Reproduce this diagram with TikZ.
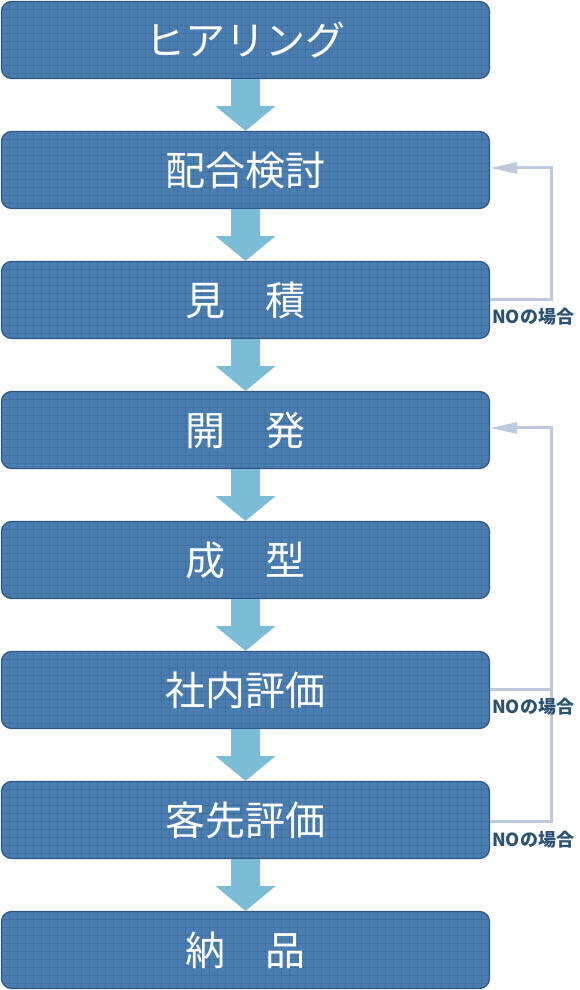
\documentclass[tikz,border=0pt]{standalone}
\usepackage{fontspec}
\setmainfont{Noto Sans CJK JP}
\usetikzlibrary{arrows.meta,calc}
\definecolor{boxfill}{HTML}{4A7EB0}
\definecolor{gridc}{HTML}{4070A0}
\definecolor{boxline}{HTML}{2B5686}
\definecolor{arrowc}{HTML}{7BBCD6}
\definecolor{loopc}{HTML}{BDC9DC}
\definecolor{labelc}{HTML}{2C5272}
\tikzset{
  stepbox/.style={draw=boxline, line width=1.2pt, fill=boxfill, rounded corners=10pt,
    minimum width=488pt, minimum height=77pt, inner sep=0pt, text=white,
    font=\fontsize{40pt}{44pt}\selectfont,
    path picture={%
      \foreach \gi in {1,...,61}
        \draw[gridc, line width=1pt] ([xshift=\gi*8pt]path picture bounding box.south west)
          -- ([xshift=\gi*8pt]path picture bounding box.north west);
      \foreach \gj in {1,...,9}
        \draw[gridc, line width=1pt] ([yshift=-\gj*8pt]path picture bounding box.north west)
          -- ([yshift=-\gj*8pt]path picture bounding box.north east);}},
  loopline/.style={draw=loopc, line width=3pt},
  looparrow/.style={loopline, -{Triangle[length=27pt,width=11pt]}},
  nolabel/.style={text=labelc, font=\fontsize{18pt}{20pt}\selectfont\bfseries, inner sep=0pt, anchor=west},
}
\newcommand{\flowarrow}[2]{%
  \fill[arrowc] ([xshift=-14.5pt]#1.south) -- ([xshift=-14.5pt,yshift=-27pt]#1.south)
    -- ([xshift=-30pt,yshift=-27pt]#1.south) -- (#2.north)
    -- ([xshift=30pt,yshift=-27pt]#1.south) -- ([xshift=14.5pt,yshift=-27pt]#1.south)
    -- ([xshift=14.5pt]#1.south) -- cycle;}
\begin{document}
\begin{tikzpicture}[x=1pt,y=1pt]
\useasboundingbox (0,0) rectangle (580,990);
\node[stepbox] (b1) at (245.5,950) {ヒアリング};
\node[stepbox] (b2) at (245.5,820) {配合検討};
\node[stepbox] (b3) at (245.5,690) {見　積};
\node[stepbox] (b4) at (245.5,560) {開　発};
\node[stepbox] (b5) at (245.5,430) {成　型};
\node[stepbox] (b6) at (245.5,300) {社内評価};
\node[stepbox] (b7) at (245.5,170) {客先評価};
\node[stepbox] (b8) at (245.5,40) {納　品};
\flowarrow{b1}{b2}
\flowarrow{b2}{b3}
\flowarrow{b3}{b4}
\flowarrow{b4}{b5}
\flowarrow{b5}{b6}
\flowarrow{b6}{b7}
\flowarrow{b7}{b8}
% loop 1
\coordinate (j1) at (551,690);
\draw[looparrow] (b3.east) -- (j1) |- ([yshift=2pt]b2.east);
% loop 2
\coordinate (j2) at (551,300);
\draw[loopline] ([yshift=-2pt]b7.east) -| (j2);
\draw[looparrow] (b6.east) -- (j2) |- ([yshift=2pt]b4.east);
% labels
\node[nolabel] (n1) at (492,673) {NOの場合};
\node[nolabel] (n2) at (492,283) {NOの場合};
\node[nolabel] (n3) at (492,150) {NOの場合};
\end{tikzpicture}
\end{document}
